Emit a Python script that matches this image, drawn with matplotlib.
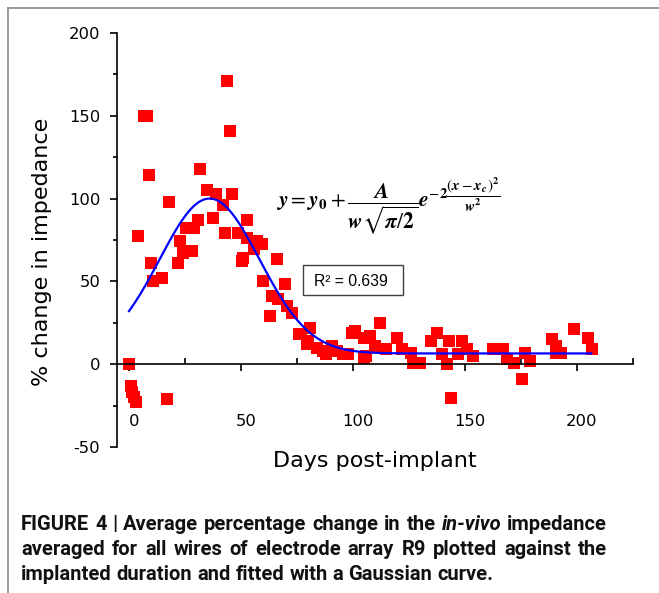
import numpy as np
import matplotlib
matplotlib.use('Agg')
import matplotlib.pyplot as plt
from matplotlib import font_manager
from matplotlib.transforms import ScaledTranslation, IdentityTransform
from matplotlib.lines import Line2D
from matplotlib.patches import Rectangle

# impedance data
days = [0, 1, 1.5, 2.2, 3, 4, 6.5, 8, 9, 10, 10.8, 14.7, 17, 18, 22, 24, 28, 22.8,
        25.5, 29, 31, 31.7, 35, 37.5, 39, 42, 43, 43.8, 45, 46, 48.7, 50.4, 51,
        52.7, 52.6, 56, 57, 59.4, 60, 63, 64, 66, 66.5, 69.6, 70.5, 73, 76, 77,
        81, 79.5, 80, 84, 86.6, 88, 90.5, 93, 95.5, 98, 99.6, 101, 105, 107.6,
        106, 105, 110, 112, 115, 119.6, 122, 126, 127, 130, 135, 137.5, 140,
        142, 143, 144, 147, 149, 151, 153.6, 162.5, 167, 169, 172, 175.4, 177,
        179, 189, 191, 191, 193, 199, 205, 207]
pct_change = [0, -13, -17, -20, -23, 77.5, 150, 150, 114, 61, 50, 52, -21, 98, 61,
              67, 68.5, 74.5, 82, 82, 87, 118, 105, 88.5, 103, 96, 79.5, 171, 141,
              102.5, 79.5, 62.5, 64.3, 86.8, 76.5, 69.8, 74.6, 72.8, 50, 29, 41,
              63.7, 39.4, 48.5, 35, 31, 18, 18, 22, 12, 14, 10, 8, 6, 11, 8, 6, 6,
              19, 20, 16, 17, 5, 4, 11, 25, 9, 16, 9, 6.7, 0.6, 0.6, 14, 19, 6, 0,
              14, -20.6, 6, 14, 9, 5, 9, 9, 3, 0.6, -9, 6.7, 1.8, 15, 11, 6.7, 6.7,
              21, 16, 9]

# Gaussian fit parameters
y0 = 6.5
xc = 36.0
w = 44.7
A = 5240.0
fit_start, fit_end = 0, 206.5

x_ticks = [0, 50, 100, 150, 200]
x_minor = [25, 75, 125, 175, 225]
y_ticks = [-50, 0, 50, 100, 150, 200]
y_minor = [-25, 25, 75, 125, 175]

caption = [
    [("FIGURE", "normal"), ("4", "normal"), ("|", "normal"), ("Average", "normal"),
     ("percentage", "normal"), ("change", "normal"), ("in", "normal"), ("the", "normal"),
     ("in-vivo", "italic"), ("impedance", "normal")],
    [(s, "normal") for s in "averaged for all wires of electrode array R9 plotted against the".split()],
    [(s, "normal") for s in "implanted duration and fitted with a Gaussian curve.".split()],
]

plt.rcParams['mathtext.fontset'] = 'stix'
plt.rcParams['font.family'] = 'DejaVu Sans'
plt.rcParams['axes.unicode_minus'] = False

W, H = 659, 593
fig = plt.figure(figsize=(W / 100, H / 100), dpi=100)
ax = fig.add_axes([117 / W, 146 / H, 516 / W, 414 / H])

xs = np.linspace(fit_start, fit_end, 400)
fit = y0 + A / (w * np.sqrt(np.pi / 2)) * np.exp(-2 * (xs - xc) ** 2 / w ** 2)

ax.plot(days, pct_change, 's', color='#ff0000', markersize=9.3, markeredgewidth=0,
        clip_on=False, zorder=2)
ax.plot(xs, fit, color='#0000ff', lw=1.6, zorder=3)

ax.set_xlim(-5.36, 225.2)
ax.set_ylim(-50, 200)
ax.spines['top'].set_visible(False)
ax.spines['right'].set_visible(False)
ax.spines['bottom'].set_position(('data', 0))
for s in ('left', 'bottom'):
    ax.spines[s].set_linewidth(1.2)

ax.set_xticks(x_ticks)
ax.set_xticks(x_minor, minor=True)
ax.set_yticks(y_ticks)
ax.set_yticks(y_minor, minor=True)
ax.tick_params(axis='x', which='major', direction='out', length=5, width=1.2,
               pad=31, labelsize=11.8)
ax.tick_params(axis='x', which='minor', direction='in', length=4, width=1.2)
ax.tick_params(axis='y', which='major', direction='out', length=5, width=1.2,
               pad=7, labelsize=11.8)
ax.tick_params(axis='y', which='minor', direction='out', length=3, width=1.2)
shift = ScaledTranslation(5 / 100, 0, fig.dpi_scale_trans)
for lbl in ax.get_xticklabels():
    lbl.set_transform(lbl.get_transform() + shift)

fig.text(375 / W, 1 - 461 / H, 'Days post-implant', fontsize=16, ha='center', va='center')
fig.text(42 / W, 1 - 252 / H, '% change in impedance', fontsize=16, rotation=90,
         ha='center', va='center')

eq = (r'$\mathbfit{y}=\mathbfit{y}_{\mathbf{0}}+\dfrac{\mathbfit{A}}{\mathbfit{w}\sqrt{\mathbfit{\pi}/\mathbf{2}}}'
      r'\mathbfit{e}^{-\mathbf{2}\dfrac{(\mathbfit{x}-\mathbfit{x}_{\mathbfit{c}})^{\mathbf{2}}}{\mathbfit{w}^{\mathbf{2}}}}$')
fig.text(388 / W, 1 - 206 / H, eq, fontsize=15.5, ha='center', va='center')

fig.add_artist(Rectangle((303 / W, 1 - 295 / H), 100 / W, 30 / H, transform=fig.transFigure,
                         fill=False, edgecolor='#404040', lw=1.0))
fig.text(351 / W, 1 - 281 / H, 'R² = 0.639', family='Liberation Sans', fontsize=11.3,
         ha='center', va='center')

# frame around the figure
grey = '#8a8a8a'
fig.add_artist(Line2D([7.5 / W, 7.5 / W], [0, 1 - 8 / H], transform=fig.transFigure,
                      color=grey, lw=1.2))
fig.add_artist(Line2D([7.5 / W, 1], [1 - 8 / H, 1 - 8 / H], transform=fig.transFigure,
                      color=grey, lw=1.2))

# justified caption
names = {f.name for f in font_manager.fontManager.ttflist}
cap_family = 'Liberation Sans'
for cand in ('Roboto', 'Lato'):
    if cand in names:
        cap_family = cand
        break
renderer = fig.canvas.get_renderer()
x0, x1 = 21, 607
baselines = [530, 555, 580]


def measure(word, style, size):
    t = fig.text(0, 0, word, fontsize=size, fontweight='bold', fontstyle=style,
                 family=cap_family, transform=IdentityTransform())
    wd = t.get_window_extent(renderer).width
    t.remove()
    return wd


size = 14.5
space = measure('a a', 'normal', size) - 2 * measure('a', 'normal', size)
longest = max(sum(measure(wd, st, size) for wd, st in line) + space * (len(line) - 1)
              for line in caption)
if longest > x1 - x0:
    size *= (x1 - x0) / longest * 0.99
space = measure('a a', 'normal', size) - 2 * measure('a', 'normal', size)

for i, line in enumerate(caption):
    widths = [measure(wd, st, size) for wd, st in line]
    gap = (x1 - x0 - sum(widths)) / (len(line) - 1) if i < 2 else space
    x = x0
    for (word, style), wd in zip(line, widths):
        fig.text(x, H - baselines[i], word, fontsize=size, fontweight='bold', fontstyle=style,
                 family=cap_family, transform=IdentityTransform(), va='baseline',
                 color='#111111')
        x += wd + gap

fig.savefig('out.png', dpi=100)
